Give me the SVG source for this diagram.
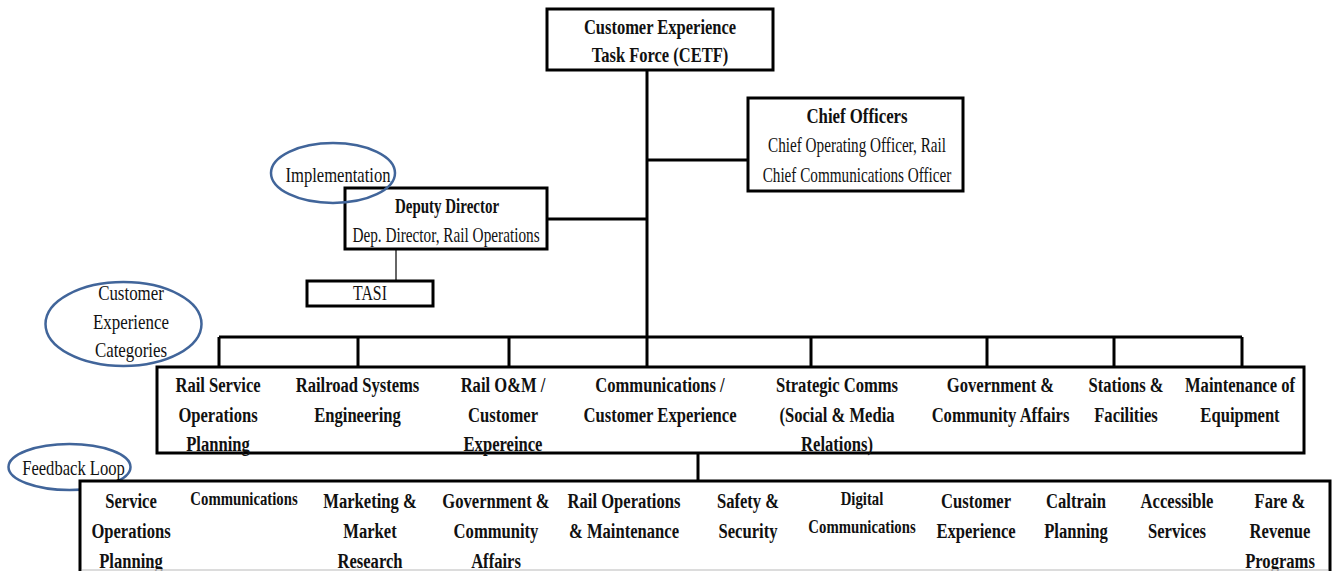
<svg xmlns="http://www.w3.org/2000/svg" width="1335" height="571" viewBox="0 0 1335 571">
<style>
.box{fill:#fff;stroke:#000;stroke-width:3}
.ell{fill:none;stroke:#41659a;stroke-width:2.5}
.ln{stroke:#000;stroke-width:3;fill:none}
.thin{stroke:#333;stroke-width:1.5;fill:none}
text{font-family:"Liberation Serif","Times New Roman",serif;fill:#111;text-anchor:middle}
.b{font-weight:bold;font-size:20px}
.bs{font-weight:bold;font-size:18px}
.r{font-size:20px}
.h{font-weight:bold;font-size:22px}
</style>
<rect width="1335" height="571" fill="#fff"/>
<g id="connectors">
  <path class="ln" d="M647 70 V367"/>
  <path class="ln" d="M647 160 H748"/>
  <path class="ln" d="M547 219 H647"/>
  <path class="thin" d="M396 249 V281"/>
  <path class="ln" d="M219 337 H1242"/>
  <path class="ln" d="M219 337 V367 M358 337 V367 M509 337 V367 M811 337 V367 M987 337 V367 M1114 337 V367 M1242 337 V367"/>
  <path class="ln" d="M698 453 V481"/>
</g>
<g id="cetf">
  <rect class="box" x="547" y="9" width="226" height="61"/>
  <text class="h" transform="translate(660 34) scale(0.75 1)"><tspan x="0">Customer Experience</tspan><tspan x="0" dy="28">Task Force (CETF)</tspan></text>
</g>
<g id="chief-officers">
  <rect class="box" x="748" y="98" width="215" height="93"/>
  <text class="b" style="font-size:21px" transform="translate(857 123) scale(0.8 1)">Chief Officers</text>
  <text class="r" transform="translate(857 152) scale(0.76 1)"><tspan x="0">Chief Operating Officer, Rail</tspan><tspan x="0" dy="30">Chief Communications Officer</tspan></text>
</g>
<g id="deputy-director">
  <rect class="box" x="345" y="188" width="202" height="61"/>
  <text class="b" transform="translate(447 213) scale(0.75 1)">Deputy Director</text>
  <text class="r" transform="translate(446 242) scale(0.764 1)">Dep. Director, Rail Operations</text>
</g>
<g id="implementation">
  <ellipse class="ell" cx="333" cy="173" rx="62" ry="30"/>
  <text class="r" transform="translate(338 182) scale(0.83 1)">Implementation</text>
</g>
<g id="tasi">
  <rect class="box" x="307" y="281" width="126" height="25"/>
  <text class="r" transform="translate(370 300) scale(0.79 1)">TASI</text>
</g>
<g id="cx-categories-label">
  <ellipse class="ell" cx="123.5" cy="324" rx="78" ry="42"/>
  <text class="r" transform="translate(131 300) scale(0.845 1)"><tspan x="0">Customer</tspan><tspan x="0" dy="29">Experience</tspan><tspan x="0" dy="28">Categories</tspan></text>
</g>
<g id="categories">
  <rect class="box" x="157" y="367" width="1147" height="86"/>
  <text class="b" transform="translate(218 392) scale(0.83 1)"><tspan x="0">Rail Service</tspan><tspan x="0" dy="30">Operations</tspan><tspan x="0" dy="29">Planning</tspan></text>
  <text class="b" transform="translate(357.5 392) scale(0.83 1)"><tspan x="0">Railroad Systems</tspan><tspan x="0" dy="30">Engineering</tspan></text>
  <text class="b" transform="translate(503 392) scale(0.83 1)"><tspan x="0">Rail O&amp;M /</tspan><tspan x="0" dy="30">Customer</tspan><tspan x="0" dy="29">Expereince</tspan></text>
  <text class="b" transform="translate(660 392) scale(0.83 1)"><tspan x="0">Communications /</tspan><tspan x="0" dy="30">Customer Experience</tspan></text>
  <text class="b" transform="translate(837 392) scale(0.83 1)"><tspan x="0">Strategic Comms</tspan><tspan x="0" dy="30">(Social &amp; Media</tspan><tspan x="0" dy="29">Relations)</tspan></text>
  <text class="b" transform="translate(1000.5 392) scale(0.83 1)"><tspan x="0">Government &amp;</tspan><tspan x="0" dy="30">Community Affairs</tspan></text>
  <text class="b" transform="translate(1126 392) scale(0.83 1)"><tspan x="0">Stations &amp;</tspan><tspan x="0" dy="30">Facilities</tspan></text>
  <text class="b" transform="translate(1240 392) scale(0.83 1)"><tspan x="0">Maintenance of</tspan><tspan x="0" dy="30">Equipment</tspan></text>
</g>
<g id="feedback-label">
  <ellipse class="ell" cx="69.5" cy="467" rx="61" ry="23"/>
  <text class="r" transform="translate(73.5 475) scale(0.83 1)">Feedback Loop</text>
</g>
<g id="feedback">
  <rect class="box" x="80" y="481" width="1250" height="110"/>
  <text class="b" transform="translate(131 508) scale(0.83 1)"><tspan x="0">Service</tspan><tspan x="0" dy="30">Operations</tspan><tspan x="0" dy="30">Planning</tspan></text>
  <text class="bs" transform="translate(244 505) scale(0.82 1)">Communications</text>
  <text class="b" transform="translate(370 508) scale(0.83 1)"><tspan x="0">Marketing &amp;</tspan><tspan x="0" dy="30">Market</tspan><tspan x="0" dy="30">Research</tspan></text>
  <text class="b" transform="translate(496 508) scale(0.83 1)"><tspan x="0">Government &amp;</tspan><tspan x="0" dy="30">Community</tspan><tspan x="0" dy="30">Affairs</tspan></text>
  <text class="b" transform="translate(624 508) scale(0.83 1)"><tspan x="0">Rail Operations</tspan><tspan x="0" dy="30">&amp; Maintenance</tspan></text>
  <text class="b" transform="translate(748 508) scale(0.83 1)"><tspan x="0">Safety &amp;</tspan><tspan x="0" dy="30">Security</tspan></text>
  <text class="bs" transform="translate(862 505) scale(0.82 1)"><tspan x="0">Digital</tspan><tspan x="0" dy="28">Communications</tspan></text>
  <text class="b" transform="translate(976 508) scale(0.83 1)"><tspan x="0">Customer</tspan><tspan x="0" dy="30">Experience</tspan></text>
  <text class="b" transform="translate(1076 508) scale(0.83 1)"><tspan x="0">Caltrain</tspan><tspan x="0" dy="30">Planning</tspan></text>
  <text class="b" transform="translate(1177 508) scale(0.83 1)"><tspan x="0">Accessible</tspan><tspan x="0" dy="30">Services</tspan></text>
  <text class="b" transform="translate(1280 508) scale(0.83 1)"><tspan x="0">Fare &amp;</tspan><tspan x="0" dy="30">Revenue</tspan><tspan x="0" dy="30">Programs</tspan></text>
  <path d="M82 570 H1328" stroke="#d0d0d0" stroke-width="1.5"/>
</g>
</svg>
